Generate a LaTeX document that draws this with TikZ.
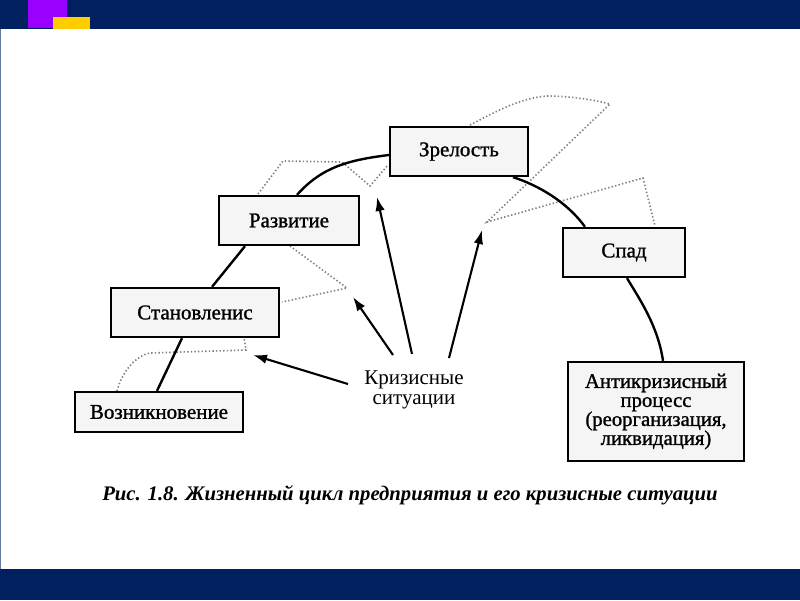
\documentclass[tikz,border=0pt]{standalone}
\usepackage{fontspec}
\setmainfont{Liberation Serif}
\newfontfamily\boxfont{Liberation Serif}[FakeBold=1.2]
\usetikzlibrary{arrows.meta}
\definecolor{navy}{HTML}{002060}
\definecolor{purp}{HTML}{9900FF}
\definecolor{yel}{HTML}{FFCC00}
\begin{document}
\begin{tikzpicture}[x=1pt,y=-1pt,
 box/.style={draw=black,line width=2.3pt,fill=gray!8,inner sep=0pt,font=\boxfont\fontsize{21}{23}\selectfont},
 life/.style={line width=2.4pt},
 crisis/.style={draw=black!50,line width=1.6pt,dash pattern=on 1.4pt off 2.2pt},
 arr/.style={line width=2.1pt,-{Latex[length=14pt,width=9.5pt]}}]
\useasboundingbox (0,0) rectangle (800,600);
\fill[white] (0,0) rectangle (800,600);
\fill[navy] (0,0) rectangle (800,29);
\fill[navy] (0,569) rectangle (800,600);
\fill[purp] (28,0) rectangle (67,28);
\fill[yel] (53,17) rectangle (90,29);
\draw[navy!60,line width=1pt] (0.5,29) -- (0.5,569);
% crisis zones
\draw[crisis] (117,391) .. controls (122,372) and (135,356) .. (150,353) -- (246,350) -- (244,338);
\draw[crisis] (290,246) -- (347,288) -- (282,302);
\draw[crisis] (258,194) -- (283,161) -- (342,162) -- (370,186) -- (388,165);
\draw[crisis] (470,125) .. controls (495,112) and (520,98) .. (547,96) .. controls (570,96) and (595,100) .. (610,104) -- (487,222) -- (643,178) -- (655,226);
% boxes
\node[box,minimum width=138pt,minimum height=49pt] (zrel) at (459,151.5) {Зрелость};
\node[box,minimum width=140pt,minimum height=49pt] (razv) at (289,220.5) {Развитие};
\node[box,minimum width=168pt,minimum height=49pt] (stan) at (195,312.5) {Становленис};
\node[box,minimum width=168pt,minimum height=40pt] (voz) at (159,412) {Возникновение};
\node[box,minimum width=122pt,minimum height=49pt] (spad) at (624,252.5) {Спад};
\node[box,align=center,minimum width=176pt,minimum height=99pt,font=\boxfont\fontsize{20.7}{19}\selectfont] (anti) at (656,411.5) {Антикризисный\\процесс\\(реорганизация,\\ликвидация)};
\node[align=center,font=\fontsize{21}{20}\selectfont] (kriz) at (414,390) {Кризисные\\ситуации};
\node[font=\fontsize{20.7}{22}\selectfont\bfseries\itshape] (cap) at (410,495) {Рис. 1.8. Жизненный цикл предприятия и его кризисные ситуации};
% life cycle curve
\draw[life] ([xshift=-2pt]voz.north) -- ([xshift=-13pt]stan.south);
\draw[life] ([xshift=17pt]stan.north) -- ([xshift=-44pt]razv.south);
\draw[life] ([xshift=8pt]razv.north) .. controls +(25,-28) and +(-40,5) .. ([yshift=-3.5pt]zrel.west);
\draw[life] ([xshift=54pt]zrel.south) .. controls +(25,8) and +(-18,-25) .. ([xshift=-39pt]spad.north);
\draw[life] ([xshift=3pt]spad.south) .. controls +(12,20) and +(-5,-35) .. ([xshift=7pt]anti.north);
% arrows
\coordinate (h1) at (253,355); \coordinate (t1) at (348,384);
\coordinate (h2) at (353,297); \coordinate (t2) at (393,355);
\coordinate (h3) at (377,197); \coordinate (t3) at (412,354);
\coordinate (h4) at (482,230); \coordinate (t4) at (449,358);
\draw[arr] (t1) -- (h1);
\draw[arr] (t2) -- (h2);
\draw[arr] (t3) -- (h3);
\draw[arr] (t4) -- (h4);
\end{tikzpicture}
\end{document}
